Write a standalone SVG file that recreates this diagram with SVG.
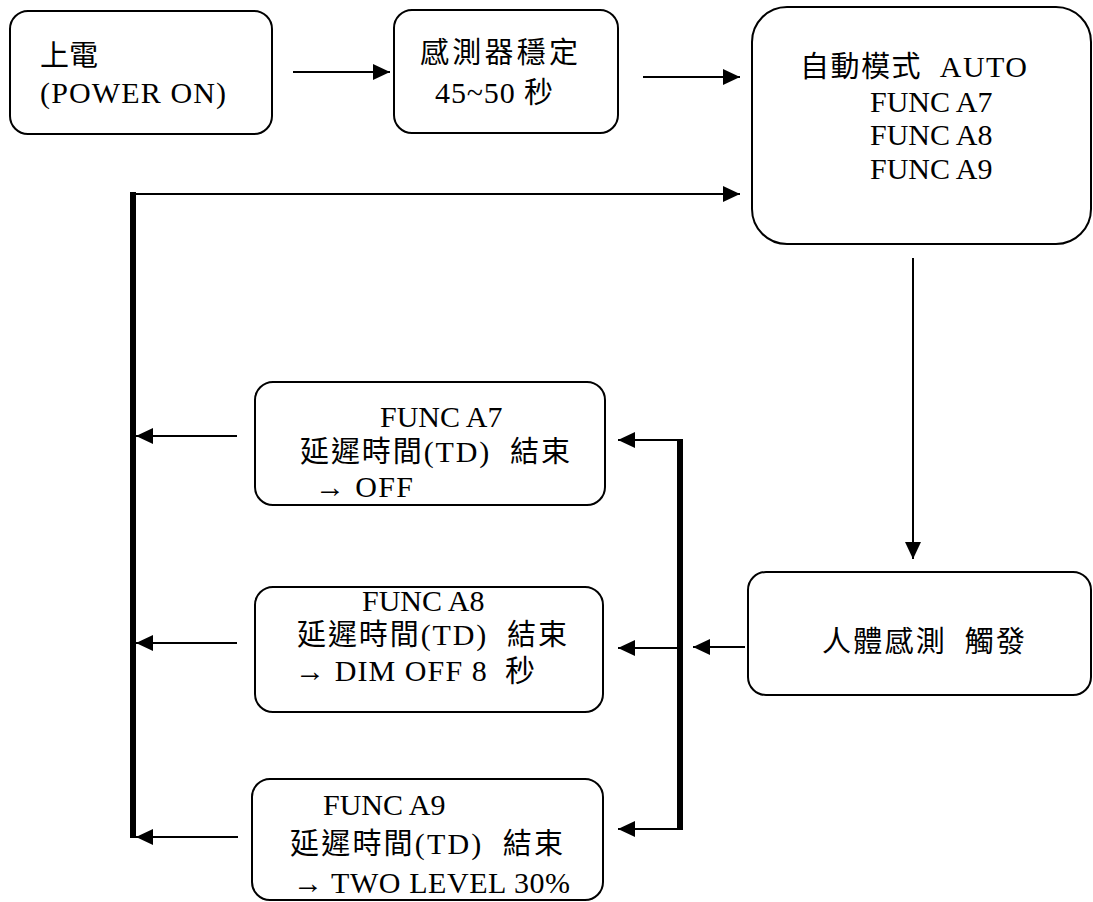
<svg xmlns="http://www.w3.org/2000/svg" width="1093" height="902" viewBox="0 0 1093 902">
<style>
.box{fill:#fff;stroke:#000;stroke-width:2}
.t{font-family:"Liberation Serif","Noto Sans CJK TC","Noto Sans CJK SC",serif;font-size:30px;fill:#000;white-space:pre}
.c{font-family:"Noto Sans CJK TC","Noto Sans CJK SC",sans-serif;font-size:29px}
.ln{stroke:#000;stroke-width:2;fill:none}
.bar{stroke:#000;stroke-width:6;fill:none}
</style>
<defs>
<marker id="ah" markerUnits="userSpaceOnUse" markerWidth="17" markerHeight="16" refX="17" refY="8" orient="auto">
<path d="M0,0 L17,8 L0,16 z" fill="#000"/>
</marker>
</defs>
<rect width="1093" height="902" fill="#fff"/>
<g id="power">
<rect class="box" x="10" y="11" width="262" height="123" rx="18"/>
<text class="t" x="40" y="66"><tspan class="c">上電</tspan></text>
<text class="t" x="40" y="103" textLength="186">(POWER ON)</text>
</g>
<g id="stabilize">
<rect class="box" x="394" y="10" width="224" height="123" rx="18"/>
<text class="t" x="420" y="63" textLength="158"><tspan class="c">感測器穩定</tspan></text>
<text class="t" x="435" y="103" textLength="118">45~50 <tspan class="c">秒</tspan></text>
</g>
<g id="auto">
<rect class="box" x="752" y="7" width="339" height="237" rx="35"/>
<text class="t" x="800" y="77" textLength="227"><tspan class="c">自動模式</tspan>  AUTO</text>
<text class="t" x="870" y="112">FUNC A7</text>
<text class="t" x="870" y="145">FUNC A8</text>
<text class="t" x="870" y="179">FUNC A9</text>
</g>
<g id="trigger">
<rect class="box" x="748" y="572" width="343" height="123" rx="18"/>
<text class="t" x="822" y="652" textLength="203"><tspan class="c">人體感測  觸發</tspan></text>
</g>
<g id="a7">
<rect class="box" x="255" y="382" width="350" height="123" rx="18"/>
<text class="t" x="380" y="427">FUNC A7</text>
<text class="t" x="300" y="462" textLength="270"><tspan class="c">延遲時間</tspan>(TD)  <tspan class="c">結束</tspan></text>
<text class="t" x="315" y="497" textLength="98">→ OFF</text>
</g>
<g id="a8">
<rect class="box" x="255" y="587" width="348" height="125" rx="18"/>
<text class="t" x="362" y="611">FUNC A8</text>
<text class="t" x="297" y="645" textLength="270"><tspan class="c">延遲時間</tspan>(TD)  <tspan class="c">結束</tspan></text>
<text class="t" x="295" y="681" textLength="240">→ DIM OFF 8  秒</text>
</g>
<g id="a9">
<rect class="box" x="252" y="779" width="351" height="121" rx="18"/>
<text class="t" x="323" y="815">FUNC A9</text>
<text class="t" x="290" y="854" textLength="273"><tspan class="c">延遲時間</tspan>(TD)  <tspan class="c">結束</tspan></text>
<text class="t" x="293" y="893" textLength="277">→ TWO LEVEL 30%</text>
</g>
<g id="connectors">
<line class="ln" x1="293" y1="72" x2="390" y2="72" marker-end="url(#ah)"/>
<line class="ln" x1="643" y1="77" x2="740" y2="77" marker-end="url(#ah)"/>
<line class="ln" x1="133" y1="194" x2="740" y2="194" marker-end="url(#ah)"/>
<line class="bar" x1="133" y1="192" x2="133" y2="838"/>
<line class="ln" x1="237" y1="436" x2="136" y2="436" marker-end="url(#ah)"/>
<line class="ln" x1="237" y1="643" x2="136" y2="643" marker-end="url(#ah)"/>
<line class="ln" x1="238" y1="837" x2="136" y2="837" marker-end="url(#ah)"/>
<line class="ln" x1="913" y1="258" x2="913" y2="559" marker-end="url(#ah)"/>
<line class="ln" x1="745" y1="647" x2="693" y2="647" marker-end="url(#ah)"/>
<line class="bar" x1="680" y1="439" x2="680" y2="830"/>
<line class="ln" x1="683" y1="440" x2="618" y2="440" marker-end="url(#ah)"/>
<line class="ln" x1="680" y1="648" x2="618" y2="648" marker-end="url(#ah)"/>
<line class="ln" x1="683" y1="829" x2="618" y2="829" marker-end="url(#ah)"/>
</g>
</svg>
